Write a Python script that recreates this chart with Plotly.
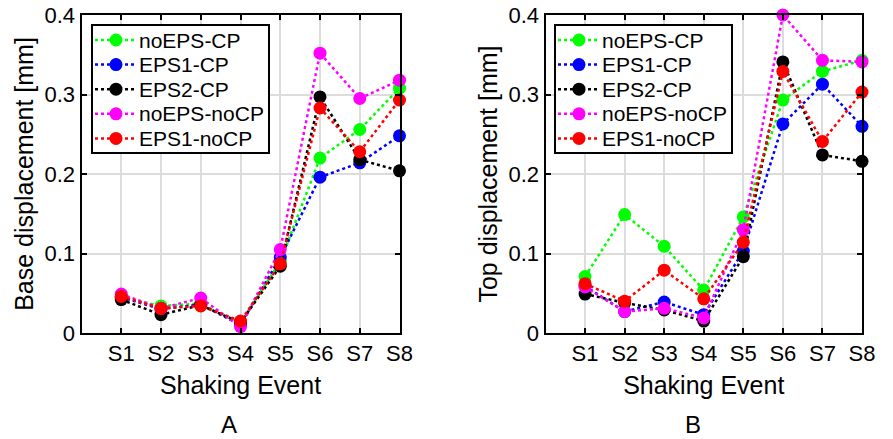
import plotly.graph_objects as go

events = ["S1", "S2", "S3", "S4", "S5", "S6", "S7", "S8"]
series_names = ["noEPS-CP", "EPS1-CP", "EPS2-CP", "noEPS-noCP", "EPS1-noCP"]
colors = ["#00ff00", "#0000ff", "#000000", "#ff00ff", "#ff0000"]

# Panel A: base displacement [mm]
base_noEPS_CP = [0.045, 0.034, 0.037, 0.012, 0.090, 0.220, 0.256, 0.308]
base_EPS1_CP = [0.045, 0.030, 0.036, 0.010, 0.095, 0.196, 0.214, 0.248]
base_EPS2_CP = [0.042, 0.023, 0.035, 0.013, 0.084, 0.297, 0.218, 0.204]
base_noEPS_noCP = [0.049, 0.031, 0.044, 0.008, 0.105, 0.352, 0.295, 0.318]
base_EPS1_noCP = [0.046, 0.031, 0.034, 0.015, 0.087, 0.283, 0.228, 0.293]

# Panel B: top displacement [mm]
top_noEPS_CP = [0.071, 0.149, 0.109, 0.054, 0.146, 0.293, 0.329, 0.343]
top_EPS1_CP = [0.059, 0.027, 0.039, 0.023, 0.103, 0.263, 0.313, 0.260]
top_EPS2_CP = [0.049, 0.038, 0.029, 0.015, 0.096, 0.341, 0.224, 0.216]
top_noEPS_noCP = [0.058, 0.027, 0.031, 0.019, 0.130, 0.400, 0.343, 0.341]
top_EPS1_noCP = [0.062, 0.040, 0.079, 0.043, 0.114, 0.329, 0.241, 0.303]

base_series = [base_noEPS_CP, base_EPS1_CP, base_EPS2_CP, base_noEPS_noCP, base_EPS1_noCP]
top_series = [top_noEPS_CP, top_EPS1_CP, top_EPS2_CP, top_noEPS_noCP, top_EPS1_noCP]

y_ticks = [0, 0.1, 0.2, 0.3, 0.4]
y_ticklabels = ["0", "0.1", "0.2", "0.3", "0.4"]

FONT = "Liberation Sans, Arial, sans-serif"
xpos = list(range(1, len(events) + 1))

fig = go.Figure()
for data, xa, ya in [(base_series, "x", "y"), (top_series, "x2", "y2")]:
    for name, vals, col in zip(series_names, data, colors):
        fig.add_trace(go.Scatter(
            x=xpos, y=vals, name=name, mode="lines+markers",
            line=dict(color=col, width=2.5, dash="dot"),
            marker=dict(color=col, size=13),
            xaxis=xa, yaxis=ya, showlegend=False,
            cliponaxis=False,
        ))

W, H = 893, 439
def px(xp):
    return xp / W
def py(yp):
    return 1 - yp / H

axis_common = dict(
    showline=True, linecolor="black", linewidth=2, mirror="ticks",
    ticks="inside", ticklen=5, tickwidth=1.5, tickcolor="black",
    showgrid=True, gridcolor="#dcdcdc", gridwidth=1.5, zeroline=False,
    tickfont=dict(family=FONT, size=22, color="black"),
    automargin=False,
)
xtitle = dict(text="Shaking Event", font=dict(family=FONT, size=25), standoff=11)

# Legend boxes drawn as layout decorations (one per panel)
shapes = []
annotations = []
for lx in (92, 555):
    shapes.append(dict(type="rect", xref="paper", yref="paper",
                       x0=px(lx), x1=px(lx + 177), y0=py(153), y1=py(25),
                       line=dict(color="black", width=2), fillcolor="white",
                       layer="above"))
    for i, (name, col) in enumerate(zip(series_names, colors)):
        ry = 40 + 24.6 * i
        shapes.append(dict(type="line", xref="paper", yref="paper",
                           x0=px(lx + 3), x1=px(lx + 44), y0=py(ry), y1=py(ry),
                           line=dict(color=col, width=2.5, dash="dot"), layer="above"))
        shapes.append(dict(type="circle", xref="paper", yref="paper",
                           x0=px(lx + 24 - 6.5), x1=px(lx + 24 + 6.5),
                           y0=py(ry + 6.5), y1=py(ry - 6.5),
                           line=dict(color=col, width=0), fillcolor=col, layer="above"))
        annotations.append(dict(text=name, x=px(lx + 45), y=py(ry), xref="paper", yref="paper",
                                xanchor="left", yanchor="middle", showarrow=False,
                                font=dict(family=FONT, size=21, color="black")))

annotations += [
    dict(text="A", x=px(229), y=0, xref="paper", yref="paper",
         xanchor="center", yanchor="bottom", borderpad=0,
         showarrow=False, font=dict(family=FONT, size=24)),
    dict(text="B", x=px(693), y=0, xref="paper", yref="paper",
         xanchor="center", yanchor="bottom", borderpad=0,
         showarrow=False, font=dict(family=FONT, size=24)),
]

fig.update_layout(
    width=W, height=H,
    margin=dict(l=0, r=0, t=0, b=0),
    paper_bgcolor="white", plot_bgcolor="white",
    font=dict(family=FONT, color="black"),
    showlegend=False,
    xaxis=dict(domain=[px(81.5), px(399.5)], range=[0, 8], tickvals=xpos,
               ticktext=events, **axis_common, title=xtitle),
    yaxis=dict(domain=[py(333), py(15)], range=[0, 0.4], tickvals=y_ticks,
               ticktext=y_ticklabels, **axis_common,
               title=dict(text="Base displacement [mm]", font=dict(family=FONT, size=25), standoff=4)),
    xaxis2=dict(domain=[px(545.5), px(862)], range=[0, 8], tickvals=xpos,
                ticktext=events, anchor="y2", **axis_common, title=xtitle),
    yaxis2=dict(domain=[py(333), py(15)], range=[0, 0.4], tickvals=y_ticks,
                ticktext=y_ticklabels, anchor="x2", **axis_common,
                title=dict(text="Top displacement [mm]", font=dict(family=FONT, size=25), standoff=4)),
    shapes=shapes,
    annotations=annotations,
)

fig.write_html("out.html", config={"displayModeBar": False},
               post_script="document.body.style.margin='0';document.body.style.overflow='hidden';")
